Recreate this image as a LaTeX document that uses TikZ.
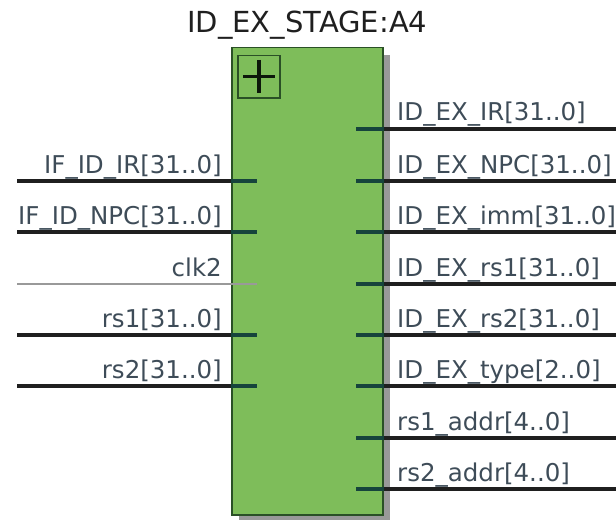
\documentclass[tikz,border=0pt]{standalone}
\usepackage{fontspec}
\setmainfont{DejaVu Sans}
\usetikzlibrary{calc, positioning}

\definecolor{symgreen}{RGB}{126,189,90}
\definecolor{symedge}{RGB}{42,80,38}
\definecolor{stubteal}{RGB}{22,68,60}
\definecolor{pintext}{RGB}{62,76,88}

\tikzset{
  wire/.style={line width=4pt, draw=black!88},
  clkwire/.style={line width=2pt, draw=black!40},
  stubwire/.style={line width=4pt, draw=stubteal},
  pinlabel/.style={font=\fontsize{24.5}{26}\selectfont, text=pintext, inner sep=0pt},
}

\begin{document}
\begin{tikzpicture}[x=1pt, y=-1pt]
\useasboundingbox (0,0) rectangle (616,527);
\def\wl{17}
\def\wr{616}
\def\stubin{257}
\def\stubout{356}
% shadow, then the block itself
\fill[black!40] (239,55) rectangle (390,520);
\node (sym) [draw=symedge, fill=symgreen, line width=1.5pt, inner sep=0pt,
  minimum width=151pt, minimum height=467pt, anchor=north west] at (231,47) {};
\node (title) [anchor=base, text=black!88, font=\fontsize{29}{30}\selectfont, inner sep=0pt]
  at ($(sym.north)+(0,-14)$) {ID\_EX\_STAGE:A4};
% expand icon
\node (expand) [draw=symedge, line width=1.5pt, inner sep=0pt, minimum size=42pt, anchor=north west]
  at (237,55) {};
\draw[line width=3.5pt, draw=black!70!symedge] ($(expand.north)+(0,5)$) -- ($(expand.south)+(0,-5)$);
\draw[line width=3.5pt, draw=black!70!symedge] ($(expand.west)+(6,0)$) -- ($(expand.east)+(-6,0)$);
% inputs
\foreach \i/\y/\lab in {1/181/IF\_ID\_IR[31..0], 2/232/IF\_ID\_NPC[31..0],
    4/335/rs1[31..0], 5/386/rs2[31..0]} {
  \coordinate (in\i) at (\wl,\y);
  \coordinate (inend\i) at (\stubin,\y);
  \draw[wire] (in\i) -- (sym.west |- in\i);
  \draw[stubwire] (sym.west |- in\i) -- (inend\i);
  \node (inlab\i) [pinlabel, anchor=base east] at (222,\y-8) {\lab};
}
\coordinate (in3) at (\wl,284);
\coordinate (inend3) at (\stubin,284);
\draw[clkwire] (in3) -- (inend3);
\node (inlab3) [pinlabel, anchor=base east] at (222,284-8) {clk2};
% outputs
\foreach \i/\y/\lab in {1/129/ID\_EX\_IR[31..0], 2/181/ID\_EX\_NPC[31..0],
    3/232/ID\_EX\_imm[31..0], 4/284/ID\_EX\_rs1[31..0], 5/335/ID\_EX\_rs2[31..0],
    6/386/ID\_EX\_type[2..0], 7/438/rs1\_addr[4..0], 8/489/rs2\_addr[4..0]} {
  \coordinate (outstart\i) at (\stubout,\y);
  \coordinate (out\i) at (\wr,\y);
  \draw[stubwire] (outstart\i) -- (sym.east |- outstart\i);
  \draw[wire] (sym.east |- outstart\i) -- (out\i);
  \node (outlab\i) [pinlabel, anchor=base west] at (397,\y-8) {\lab};
}
\end{tikzpicture}
\end{document}
